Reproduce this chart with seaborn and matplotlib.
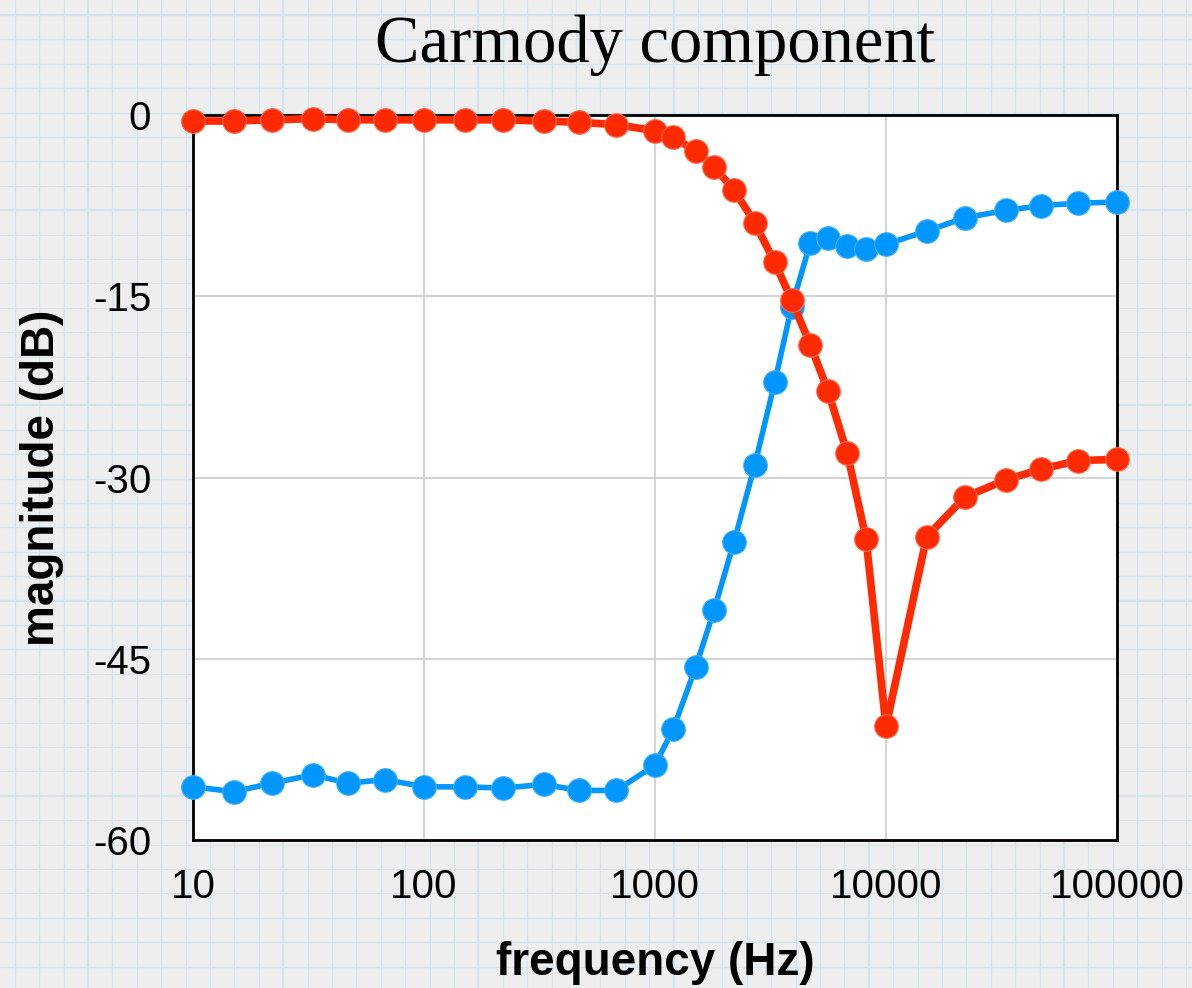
import numpy as np
import pandas as pd
import matplotlib
matplotlib.use("Agg")
import matplotlib.pyplot as plt
from matplotlib.ticker import FixedLocator, FixedFormatter, NullLocator
import seaborn as sns

# frequencies (Hz) and measured magnitudes (dB)
freq = [10, 15, 22, 33, 47, 68, 100, 150, 220, 330, 470, 680,
        1000, 1200, 1500, 1800, 2200, 2700, 3300, 3900, 4700, 5600, 6800, 8200,
        10000, 15000, 22000, 33000, 47000, 68000, 100000]
red_db = [-0.5, -0.5, -0.4, -0.3, -0.4, -0.4, -0.4, -0.4, -0.4, -0.5, -0.6, -0.8,
          -1.3, -1.8, -3.0, -4.3, -6.2, -8.9, -12.2, -15.3, -19.0, -22.8, -28.0, -35.1,
          -50.6, -34.9, -31.6, -30.2, -29.3, -28.6, -28.5]
blue_db = [-55.6, -56.0, -55.3, -54.6, -55.3, -55.0, -55.6, -55.6, -55.7, -55.4, -55.9, -55.9,
           -53.8, -50.8, -45.7, -41.0, -35.3, -29.0, -22.1, -15.9, -10.6, -10.2, -10.8, -11.1,
           -10.7, -9.6, -8.5, -7.9, -7.5, -7.3, -7.2]
x_ticks = [10, 100, 1000, 10000, 100000]
x_labels = ["10", "100", "1000", "10000", "100000"]
y_ticks = [0, -15, -30, -45, -60]
y_labels = ["0", "-15", "-30", "-45", "-60"]

df = pd.DataFrame({"freq": freq, "red": red_db, "blue": blue_db})

sns.set_style("white")
plt.rcParams['font.family'] = ['Liberation Sans', 'DejaVu Sans']
plt.rcParams['text.color'] = 'black'
plt.rcParams['axes.labelcolor'] = 'black'

fig = plt.figure(figsize=(11.92, 9.88), dpi=100)
fig.patch.set_facecolor('#eeeeee')

# graph paper background
bg = fig.add_axes([0, 0, 1, 1], zorder=-1)
bg.set_xlim(0, 1192)
bg.set_ylim(988, 0)
bg.axis('off')
step = 24.4
for i in range(-10, 60):
    lw = 1.6 if i % 8 == 0 else 0.9
    bg.axvline(88 + i * step, color='#d3e4ef', lw=lw)
for i in range(-10, 50):
    lw = 1.6 if i % 8 == 0 else 0.9
    bg.axhline(15 + i * step, color='#d3e4ef', lw=lw)

ax = fig.add_axes([193 / 1192, 1 - 840 / 988, (1117 - 193) / 1192, (840 - 115) / 988])
ax.set_facecolor('white')

sns.lineplot(data=df, x="freq", y="blue", ax=ax, color='#0096ff', lw=4,
             marker='o', markersize=17, markeredgecolor='#40b0ff', markeredgewidth=0.8,
             clip_on=False, zorder=3)
sns.lineplot(data=df, x="freq", y="red", ax=ax, color='#ff2a00', lw=5.5,
             marker='o', markersize=17, markeredgecolor='#ff6a50', markeredgewidth=0.8,
             clip_on=False, zorder=4)

ax.set_xscale('log')
ax.set_xlim(10, 100000)
ax.set_ylim(-60, 0)
ax.xaxis.set_major_locator(FixedLocator(x_ticks))
ax.xaxis.set_major_formatter(FixedFormatter(x_labels))
ax.xaxis.set_minor_locator(NullLocator())
ax.yaxis.set_major_locator(FixedLocator(y_ticks))
ax.yaxis.set_major_formatter(FixedFormatter(y_labels))
ax.tick_params(axis='both', length=0, labelsize=29, colors='black')
ax.tick_params(axis='x', pad=20)
ax.tick_params(axis='y', pad=30)
ax.grid(True, color='#d0d0d0', lw=1.3)
ax.set_axisbelow(True)
for s in ax.spines.values():
    s.set_visible(True)
    s.set_color('black')
    s.set_linewidth(2)

ax.set_xlabel("frequency (Hz)", fontsize=33, fontweight='bold')
ax.set_ylabel("magnitude (dB)", fontsize=33, fontweight='bold')
ax.xaxis.set_label_coords(0.5, (840 - 963) / 725, transform=ax.transAxes)
ax.yaxis.set_label_coords((42 - 193) / 924, 0.5, transform=ax.transAxes)
ax.xaxis.label.set_va('center')
ax.yaxis.label.set_va('center')
fig.text(655 / 1192, 1 - 45 / 988, "Carmody component", ha='center', va='center',
         fontsize=48, color='black', family=['Liberation Serif', 'DejaVu Serif'])

fig.savefig("out.png", dpi=100, facecolor=fig.get_facecolor())
